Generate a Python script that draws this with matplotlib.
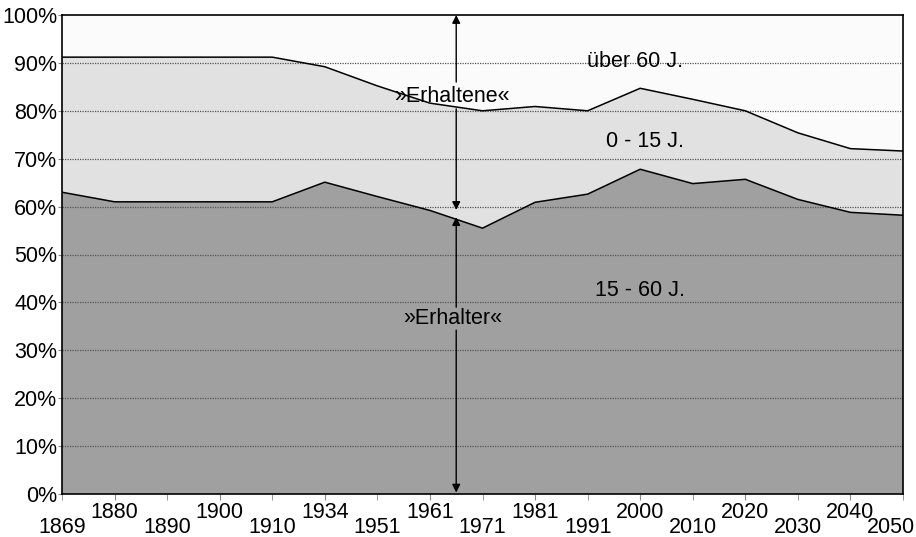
import matplotlib
matplotlib.use("Agg")
from matplotlib import pyplot as plt
from matplotlib.transforms import ScaledTranslation
import numpy as np

plt.rcParams['font.family'] = ['Liberation Sans', 'DejaVu Sans']

years = ['1869', '1880', '1890', '1900', '1910', '1934', '1951', '1961', '1971',
         '1981', '1991', '2000', '2010', '2020', '2030', '2040', '2050']

# shares in percent
share_15_60 = [63.0, 61.0, 61.0, 61.0, 61.0, 65.1, 62.1, 59.2, 55.5,
               60.9, 62.6, 67.8, 64.8, 65.7, 61.5, 58.8, 58.2]
share_0_15 = [28.2, 30.2, 30.2, 30.2, 30.2, 24.1, 23.1, 22.4, 24.5,
              20.0, 17.4, 16.9, 17.6, 14.3, 13.9, 13.3, 13.4]
share_over_60 = [8.8, 8.8, 8.8, 8.8, 8.8, 10.8, 14.8, 18.4, 20.0,
                 19.1, 20.0, 15.3, 17.6, 20.0, 24.6, 27.9, 28.4]

series_labels = ['15 - 60 J.', '0 - 15 J.', 'über 60 J.']
colors = ['#a0a0a0', '#e1e1e1', '#fbfbfb']
FS = 15.5

x = np.arange(len(years))
y = np.vstack([share_15_60, share_0_15, share_over_60])

fig = plt.figure(figsize=(9.16, 5.37), dpi=100)
ax = fig.add_axes([62 / 916, 1 - 494 / 537, 841 / 916, 479 / 537])

ax.stackplot(x, y, colors=colors, zorder=1)
cum = np.cumsum(y, axis=0)
ax.plot(x, cum[0], color='black', lw=1.1, zorder=3)
ax.plot(x, cum[1], color='black', lw=1.1, zorder=3)

ax.set_xlim(0, len(years) - 1)
ax.set_ylim(0, 100)

# grid on top of the areas
yt = np.arange(0, 101, 10)
ax.set_yticks(yt)
ax.set_yticklabels(['%d%%' % v for v in yt])
for v in yt[1:-1]:
    ax.axhline(v, color='#555555', lw=0.9, ls=(0, (1, 1)), zorder=2)

# alternating year labels: odd positions high, even positions low
ax.set_xticks(x[1::2])
ax.set_xticklabels(years[1::2])
ax.set_xticks(x[0::2], minor=True)
ax.set_xticklabels(years[0::2], minor=True)
ax.tick_params(axis='x', which='major', length=4, pad=2.0, labelsize=FS, color='#888888')
ax.tick_params(axis='x', which='minor', length=4, pad=12.3, labelsize=FS, color='#888888')
ax.tick_params(axis='y', length=3, pad=0.5, labelsize=FS, color='#888888')

# last label sits a bit to the left, as in the original
last = ax.xaxis.get_minorticklabels()[-1]
last.set_transform(last.get_transform() + ScaledTranslation(-12 / 100, 0, fig.dpi_scale_trans))

for s in ax.spines.values():
    s.set_color('black')
    s.set_linewidth(1.2)
    s.set_zorder(4)

# series labels
ax.text(10.9, 90.2, series_labels[2], ha='center', va='center', fontsize=FS, zorder=5)
ax.text(11.1, 73.5, series_labels[1], ha='center', va='center', fontsize=FS, zorder=5)
ax.text(11.0, 42.4, series_labels[0], ha='center', va='center', fontsize=FS, zorder=5)

# arrows
arrow = dict(arrowstyle='-|>', color='black', lw=1.0, mutation_scale=12, shrinkA=0, shrinkB=0)
xa = 7.5
ax.annotate('', xy=(xa, 100), xytext=(xa, 86), arrowprops=arrow, zorder=5)
ax.annotate('', xy=(xa, 59.3), xytext=(xa, 80.4), arrowprops=arrow, zorder=5)
ax.text(xa - 0.09, 83.0, '»Erhaltene«', ha='center', va='center', fontsize=FS, zorder=5)
ax.annotate('', xy=(xa, 57.8), xytext=(xa, 39.0), arrowprops=arrow, zorder=5)
ax.annotate('', xy=(xa, 0.3), xytext=(xa, 34.2), arrowprops=arrow, zorder=5)
ax.text(xa - 0.06, 36.7, '»Erhalter«', ha='center', va='center', fontsize=FS, zorder=5)

fig.savefig('out.png', dpi=100)
